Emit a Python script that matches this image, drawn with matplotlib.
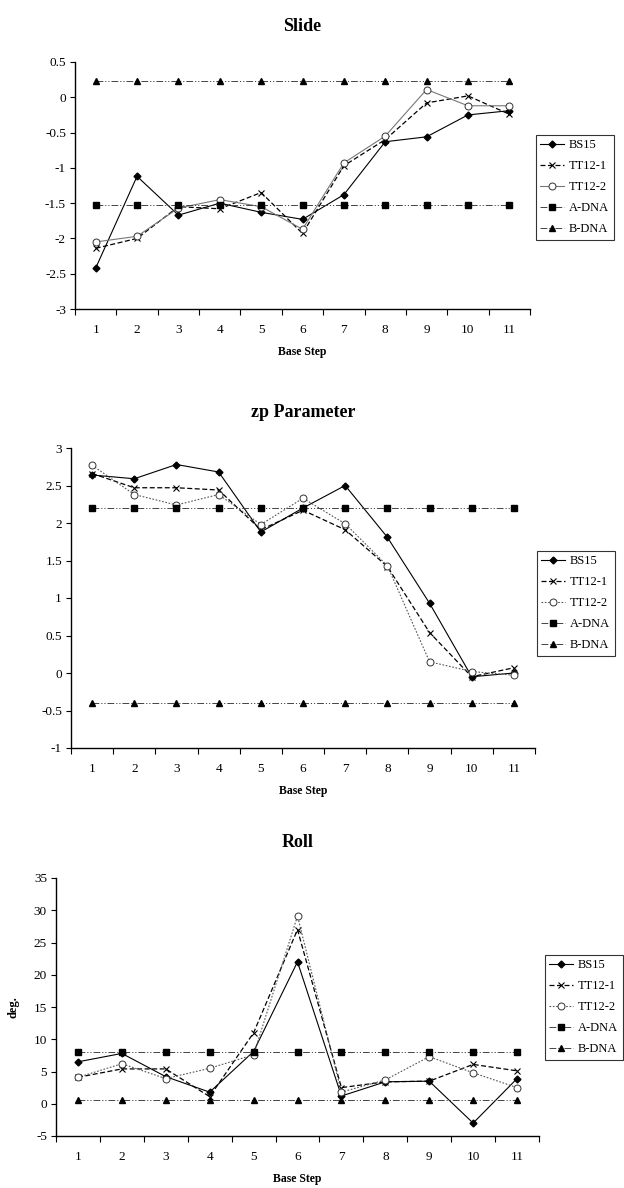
import matplotlib
matplotlib.use("Agg")
import matplotlib.pyplot as plt
from matplotlib.ticker import FixedLocator, FuncFormatter
import numpy as np

plt.rcParams['font.family'] = ['Liberation Serif', 'DejaVu Serif']
plt.rcParams['axes.unicode_minus'] = False

steps = list(range(1, 12))
series_names = ["BS15", "TT12-1", "TT12-2", "A-DNA", "B-DNA"]

slide_bs15 = [-2.42, -1.12, -1.67, -1.50, -1.63, -1.73, -1.38, -0.63, -0.56, -0.25, -0.19]
slide_tt121 = [-2.14, -2.00, -1.55, -1.58, -1.35, -1.93, -0.97, -0.60, -0.08, 0.02, -0.24]
slide_tt122 = [-2.05, -1.97, -1.57, -1.45, -1.55, -1.87, -0.93, -0.55, 0.11, -0.12, -0.12]
slide_adna = [-1.53] * 11
slide_bdna = [0.23] * 11

zp_bs15 = [2.64, 2.59, 2.78, 2.68, 1.88, 2.20, 2.50, 1.81, 0.93, -0.05, 0.00]
zp_tt121 = [2.66, 2.47, 2.47, 2.44, 1.91, 2.17, 1.91, 1.42, 0.54, -0.05, 0.07]
zp_tt122 = [2.77, 2.38, 2.24, 2.38, 1.98, 2.33, 1.99, 1.43, 0.15, 0.02, -0.03]
zp_adna = [2.20] * 11
zp_bdna = [-0.40] * 11

roll_bs15 = [6.5, 7.8, 4.2, 1.8, 8.1, 22.0, 1.2, 3.4, 3.5, -3.0, 3.9]
roll_tt121 = [4.1, 5.4, 5.4, 1.1, 11.0, 27.0, 2.5, 3.4, 3.5, 6.1, 5.1]
roll_tt122 = [4.1, 6.2, 3.9, 5.5, 7.6, 29.1, 1.8, 3.7, 7.3, 4.8, 2.5]
roll_adna = [8.0] * 11
roll_bdna = [0.65] * 11

slide_ticks = [0.5, 0, -0.5, -1, -1.5, -2, -2.5, -3]
zp_ticks = [3, 2.5, 2, 1.5, 1, 0.5, 0, -0.5, -1]
roll_ticks = [35, 30, 25, 20, 15, 10, 5, 0, -5]

W, H = 624, 1188
fig = plt.figure(figsize=(W / 100, H / 100), dpi=100)

def ax_px(left, top, right, bottom):
    return fig.add_axes([left / W, 1 - bottom / H, (right - left) / W, (bottom - top) / H])

dashdotdot = (0, (7, 2, 1.2, 2, 1.2, 2))
styles = {
    "BS15": dict(color='black', lw=0.8, ls='-', marker='D', ms=3.5, mfc='black', mec='black'),
    "TT12-1": dict(color='black', lw=0.9, ls=(0, (4, 2)), marker='x', ms=5, mec='black', mew=0.8),
    "TT12-2": dict(color='#555555', lw=0.8, ls=(0, (1.5, 1.5)), marker='o', ms=5, mfc='white', mec='#333333', mew=0.7),
    "A-DNA": dict(color='#444444', lw=0.7, ls=dashdotdot, marker='s', ms=5, mfc='black', mec='black'),
    "B-DNA": dict(color='#444444', lw=0.7, ls=dashdotdot, marker='^', ms=5, mfc='black', mec='black'),
}

def fmt(v, pos):
    if abs(v - round(v)) < 1e-9:
        return "%d" % int(round(v))
    return ("%g" % v)

def panel(ax, title, data, yticks, ylim, legend_pos, ylabel=None, tt122_solid=False):
    handles = []
    for name, vals in zip(series_names, data):
        st = dict(styles[name])
        if name == "TT12-2" and tt122_solid:
            st['ls'] = '-'
            st['color'] = '#777777'
        h, = ax.plot(steps, vals, label=name, **st)
        handles.append(h)
    ax.set_xlim(0.5, 11.5)
    ax.set_ylim(*ylim)
    ax.spines['top'].set_visible(False)
    ax.spines['right'].set_visible(False)
    for s in ['left', 'bottom']:
        ax.spines[s].set_linewidth(1.0)
    ax.set_xticks(steps)
    ax.set_xticklabels([str(s) for s in steps], fontsize=9.5)
    ax.tick_params(axis='x', which='major', length=0, pad=11)
    ax.xaxis.set_minor_locator(FixedLocator(np.arange(0.5, 12.0, 1.0)))
    ax.tick_params(axis='x', which='minor', length=4, width=0.8, direction='out')
    ax.yaxis.set_major_locator(FixedLocator(yticks))
    ax.yaxis.set_major_formatter(FuncFormatter(fmt))
    ax.tick_params(axis='y', which='major', length=3.5, width=0.8, direction='out', labelsize=9.5, pad=3)
    ax.set_xlabel("Base Step", fontsize=8.5, fontweight='bold', labelpad=7)
    if ylabel:
        ax.set_ylabel(ylabel, fontsize=9, fontweight='bold', labelpad=10)
    ax.set_title(title, fontsize=13, fontweight='bold', pad=22)
    leg = fig.legend(handles=handles, loc='upper left',
                     bbox_to_anchor=(legend_pos[0] / W, 1 - legend_pos[1] / H),
                     fontsize=9, frameon=True, fancybox=False, edgecolor='black',
                     handlelength=1.9, handletextpad=0.4, borderpad=0.35,
                     labelspacing=0.72, borderaxespad=0)
    leg.get_frame().set_linewidth(0.8)
    return ax

ax1 = ax_px(75, 62, 530, 309)
panel(ax1, "Slide", [slide_bs15, slide_tt121, slide_tt122, slide_adna, slide_bdna],
      slide_ticks, (-3, 0.5), (536, 135), tt122_solid=True)

ax2 = ax_px(71, 448, 535, 748)
panel(ax2, "zp Parameter", [zp_bs15, zp_tt121, zp_tt122, zp_adna, zp_bdna],
      zp_ticks, (-1, 3), (537, 551))

ax3 = ax_px(56, 878, 539, 1136)
panel(ax3, "Roll", [roll_bs15, roll_tt121, roll_tt122, roll_adna, roll_bdna],
      roll_ticks, (-5, 35), (545, 955), ylabel="deg.")

fig.savefig("out.png", dpi=100)
